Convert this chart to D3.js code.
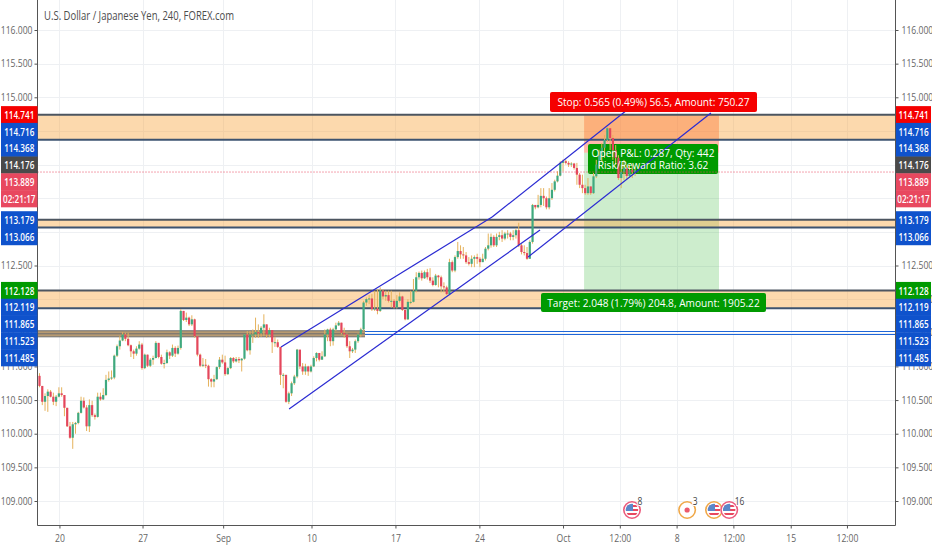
<!DOCTYPE html>
<html lang="en">
<head>
<meta charset="UTF-8">
<title>USD/JPY 240</title>
<script src="https://d3js.org/d3.v7.min.js"></script>
<style>
    html, body { margin: 0; padding: 0; background: #fff; }
    svg { display: block; }
    text { font-family: "Open Sans", Arial, sans-serif; }
    .axis path { display: none; }
    .axis line { stroke: #555; }
    .axis text { fill: #666; font-size: 10px; font-family: "Open Sans", Arial, sans-serif; }
</style>
</head>
<body>
<svg width="932" height="550"></svg>
<script>
// every candle opens at the close before it, so only the first open is kept
const firstOpen = 110.86;
const closes = [110.71,110.475,110.56,110.625,110.55,110.475,110.55,110.60,110.575,110.385,110.11,109.94,110.14,110.16,110.31,110.49,110.39,110.11,110.425,110.275,110.25,110.55,110.51,110.575,110.80,110.82,110.835,111.16,111.30,111.385,111.475,111.41,111.315,111.225,111.19,111.265,111.325,110.975,111.175,111.01,111.10,111.125,111.35,111.14,111.04,111.05,111.21,111.16,111.275,111.19,111.275,111.825,111.69,111.725,111.625,111.70,111.45,111.175,111.01,111.025,111.01,110.81,110.775,110.81,110.99,111.10,111.06,110.885,110.975,111.125,111.075,111.11,111.09,111.115,111.475,111.24,111.475,111.475,111.51,111.49,111.575,111.625,111.475,111.54,111.36,111.36,111.29,110.875,110.875,110.475,110.60,110.75,110.85,111.25,111.00,110.925,111.00,110.925,111.00,111.125,111.20,111.10,111.15,111.475,111.55,111.375,111.55,111.61,111.65,111.50,111.475,111.30,111.225,111.25,111.375,111.475,111.55,111.95,112.00,112.01,111.85,111.86,111.825,112.125,112.04,112.06,111.975,111.975,111.875,111.975,112.04,111.84,111.70,111.96,111.96,112.125,112.325,112.39,112.31,112.40,112.325,112.275,112.21,112.35,112.325,112.19,112.175,112.075,112.55,112.425,112.625,112.715,112.665,112.65,112.55,112.525,112.60,112.625,112.60,112.55,112.60,112.75,112.80,112.925,112.80,112.925,112.95,112.90,112.975,112.975,112.925,112.95,113.025,112.80,112.70,112.685,112.60,112.85,113.40,113.365,113.40,113.535,113.50,113.365,113.50,113.625,113.75,113.835,114.025,114.05,114.025,114.00,114.015,113.95,113.85,113.70,113.65,113.575,113.675,113.575,113.825,114.00,114.14,114.25,114.365,114.54,114.395,114.215,114.10,113.80,113.89,113.95,113.83,113.92,113.89,113.92];
const highs = [110.90,110.71,110.60,110.66,110.65,110.61,110.575,110.69,110.69,110.575,110.385,110.175,110.175,110.175,110.325,110.55,110.54,110.425,110.51,110.49,110.30,110.61,110.61,110.675,110.875,110.925,110.94,111.175,111.325,111.45,111.51,111.50,111.50,111.325,111.25,111.30,111.375,111.35,111.19,111.175,111.125,111.16,111.375,111.35,111.175,111.10,111.25,111.225,111.325,111.30,111.31,111.85,111.825,111.80,111.74,111.76,111.71,111.45,111.19,111.125,111.11,111.025,110.825,110.875,111.00,111.14,111.175,111.16,110.99,111.14,111.14,111.14,111.14,111.125,111.475,111.525,111.525,111.55,111.725,111.625,111.60,111.775,111.625,111.575,111.475,111.44,111.40,111.29,110.90,110.875,110.625,110.775,110.875,111.26,111.21,111.05,111.04,111.01,111.025,111.15,111.21,111.20,111.225,111.55,111.56,111.575,111.575,111.65,111.675,111.65,111.575,111.49,111.375,111.275,111.40,111.49,111.575,111.975,112.025,112.06,112.075,112.125,112.15,112.175,112.15,112.125,112.125,112.125,112.00,112.06,112.10,112.05,111.85,112.00,112.125,112.30,112.40,112.41,112.425,112.425,112.45,112.46,112.325,112.375,112.36,112.35,112.25,112.20,112.60,112.575,112.65,112.85,112.80,112.775,112.70,112.625,112.65,112.65,112.675,112.625,112.675,112.775,112.975,112.975,112.95,112.975,113.00,113.025,113.00,113.025,113.00,113.025,113.05,113.135,112.825,112.80,112.775,112.875,113.415,113.40,113.55,113.65,113.65,113.525,113.65,113.725,113.775,113.90,114.05,114.075,114.075,114.05,114.035,114.025,114.025,113.875,113.85,113.70,113.80,113.675,113.875,114.07,114.22,114.32,114.44,114.56,114.54,114.44,114.29,114.14,114.00,114.07,114.00,114.00,114.00,113.96];
const lows = [110.69,110.425,110.34,110.325,110.54,110.425,110.41,110.54,110.55,110.26,110.10,109.925,109.775,110.00,110.14,110.30,110.375,110.04,110.025,110.25,110.21,110.24,110.49,110.50,110.56,110.775,110.80,110.81,111.14,111.25,111.375,111.375,111.30,111.14,111.11,111.16,111.25,110.95,110.96,110.99,110.99,111.025,111.12,111.12,111.025,110.97,111.04,111.11,111.14,111.14,111.175,111.25,111.675,111.66,111.60,111.60,111.425,111.15,110.99,110.99,110.975,110.70,110.69,110.69,110.80,110.96,111.04,110.86,110.875,110.96,111.05,111.06,111.05,110.925,111.10,111.225,111.175,111.35,111.425,111.425,111.44,111.45,111.425,111.44,111.20,111.29,111.275,110.725,110.675,110.46,110.44,110.56,110.725,110.825,110.96,110.875,110.875,110.86,110.91,110.99,111.075,111.075,111.10,111.14,111.375,111.30,111.31,111.525,111.60,111.475,111.425,111.275,111.125,111.20,111.20,111.35,111.44,111.525,111.90,111.925,111.825,111.825,111.775,111.81,112.00,111.975,111.95,111.875,111.86,111.86,111.95,111.825,111.685,111.69,111.925,111.95,112.10,112.29,112.275,112.30,112.29,112.24,112.19,112.20,112.175,112.10,112.10,112.06,112.06,112.40,112.40,112.60,112.60,112.60,112.525,112.50,112.475,112.475,112.525,112.475,112.55,112.575,112.725,112.765,112.775,112.775,112.875,112.85,112.875,112.90,112.875,112.875,112.90,112.775,112.665,112.65,112.585,112.60,112.825,113.335,113.35,113.365,113.385,113.335,113.335,113.475,113.60,113.735,113.825,113.90,114.00,113.965,113.965,113.925,113.70,113.65,113.575,113.55,113.55,113.55,113.565,113.80,113.95,114.05,114.10,114.335,114.215,114.07,114.00,113.77,113.65,113.77,113.77,113.80,113.80,113.83];

const priceTicks = [109,109.5,110,110.5,111,111.5,112,112.5,113,113.5,114,114.5,115,115.5,116];
// time axis, positions counted in bars from the first candle
const timeTickBars = [7.2,37.2,66.3,98.2,128.5,158.8,189,209.5,230,250.5,271.2,291.5];
const timeTickLabels = ["20","27","Sep","10","17","24","Oct","12:00","8","12:00","15","12:00"];

// support / resistance zones: [top, bottom]
const zones = [[114.741,114.368],[113.179,113.066],[112.128,111.865]];
const lowZone = [111.53,111.44];
const lowZoneEndBar = 117.5;
const blueLevels = [111.523,111.485];

// trend channels: [bar, price, bar, price]
const channels = [
    [87.2,111.289,163.4,113.221],
    [90.1,110.368,180.7,113.028],
    [163.4,113.221,212.1,114.811],
    [176.4,112.627,242.4,114.767]
];

// position tool
const posBars = [196.6,245.3];
const entryPrice = 114.176, stopPrice = 114.741, targetPrice = 112.128, lastPrice = 113.889;

// price labels on both scales, top to bottom
const labelValues = [114.741,114.716,114.368,114.176,113.889,113.889,113.179,113.066,112.128,112.119,111.865,111.523,111.485];
const labelTexts = ["114.741","114.716","114.368","114.176","113.889","02:21:17","113.179","113.066","112.128","112.119","111.865","111.523","111.485"];
const labelColors = ["#f50000","#0f52cc","#0f52cc","#4a4a4a","#e8485f","#e8485f","#0f52cc","#0f52cc","#009a00","#0f52cc","#0f52cc","#0f52cc","#0f52cc"];

const eventBars = [213.9,233.8,243.5,249];
const eventKinds = ["flag","dot","flag","flag"];
const eventRings = ["#ec5a7c","#f0a848","#f0a848","#ec5a7c"];
const eventCounts = ["8","3","","16"];

const left = 37.5, right = 895.5, bottom = 525.5;
const barStep = 2.77, firstBarX = 39.5;

const svg = d3.select("svg");
const x = d3.scaleLinear().domain([0,300]).range([firstBarX, firstBarX + barStep * 300]);
const y = d3.scaleLinear().domain([109,116]).range([501,30]);

const upColor = "#3fa97f", downColor = "#e4475c", wickColor = "#e5b25c";

// the reference text is narrower than the installed fonts, so squeeze the glyphs
function squeeze(sel, factor) {
    sel.each(function() {
        const w = this.getComputedTextLength();
        if (w > 0) d3.select(this).attr("textLength", w * factor).attr("lengthAdjust", "spacingAndGlyphs");
    });
}

// scale labels are pushed down when they would overlap
const labelGap = 16.8;
let prevY = -100;
const labelYs = labelValues.map(v => {
    prevY = Math.max(y(v), prevY + labelGap);
    return prevY;
});

// grid
const grid = svg.append("g").attr("stroke", "#eef0f3");
grid.selectAll(".h").data(priceTicks).join("line")
    .attr("x1", left).attr("x2", right)
    .attr("y1", d => Math.round(y(d)) + 0.5).attr("y2", d => Math.round(y(d)) + 0.5);
grid.selectAll(".v").data(timeTickBars).join("line")
    .attr("y1", 0).attr("y2", bottom)
    .attr("x1", d => Math.round(x(d)) + 0.5).attr("x2", d => Math.round(x(d)) + 0.5);

// position regions
svg.append("rect").attr("x", x(posBars[0])).attr("width", x(posBars[1]) - x(posBars[0]))
    .attr("y", y(stopPrice)).attr("height", y(entryPrice) - y(stopPrice))
    .attr("fill", "#ff3c14").attr("fill-opacity", 0.36);
svg.append("rect").attr("x", x(posBars[0])).attr("width", x(posBars[1]) - x(posBars[0]))
    .attr("y", y(entryPrice)).attr("height", y(targetPrice) - y(entryPrice))
    .attr("fill", "#2fb52f").attr("fill-opacity", 0.24);

// zones
zones.forEach(z => {
    svg.append("rect").attr("x", left).attr("width", right - left)
        .attr("y", y(z[0])).attr("height", y(z[1]) - y(z[0]))
        .attr("fill", "#f9a43c").attr("fill-opacity", 0.42);
    z.forEach((p, i) => svg.append("line")
        .attr("x1", left).attr("x2", right).attr("y1", y(p)).attr("y2", y(p))
        .attr("stroke", i ? "#3d5370" : "#4c5560").attr("stroke-width", 2));
});
svg.append("rect").attr("x", left).attr("width", x(lowZoneEndBar) - left)
    .attr("y", y(lowZone[0])).attr("height", y(lowZone[1]) - y(lowZone[0]))
    .attr("fill", "#b79a72");
lowZone.concat(blueLevels[1]).forEach(p => svg.append("line")
    .attr("x1", left).attr("x2", x(lowZoneEndBar)).attr("y1", y(p)).attr("y2", y(p))
    .attr("stroke", "#6f6f6f").attr("stroke-width", 1));
blueLevels.forEach(p => svg.append("line")
    .attr("x1", x(lowZoneEndBar)).attr("x2", right)
    .attr("y1", Math.round(y(p)) + 0.5).attr("y2", Math.round(y(p)) + 0.5)
    .attr("stroke", "#1f66d8").attr("stroke-width", 1));

// open P&L box sits under the candles, its text goes on top later
const pnlBox = { cx: 653, cy: 159, w: 130, h: 30 };
svg.append("rect").attr("x", pnlBox.cx - pnlBox.w / 2).attr("y", pnlBox.cy - pnlBox.h / 2)
    .attr("width", pnlBox.w).attr("height", pnlBox.h).attr("rx", 2).attr("fill", "#009a00");

// candles
const candles = closes.map((c, i) => ({
    i: i, o: i ? closes[i - 1] : firstOpen, h: highs[i], l: lows[i], c: c
}));
svg.append("g").selectAll("line").data(candles).join("line")
    .attr("x1", d => x(d.i)).attr("x2", d => x(d.i))
    .attr("y1", d => y(d.h)).attr("y2", d => y(d.l))
    .attr("stroke", wickColor).attr("stroke-width", 1);
svg.append("g").selectAll("rect").data(candles).join("rect")
    .attr("x", d => x(d.i) - 1.1).attr("width", 2.2)
    .attr("y", d => y(Math.max(d.o, d.c)))
    .attr("height", d => Math.max(1, Math.abs(y(d.o) - y(d.c))))
    .attr("fill", d => d.c >= d.o ? upColor : downColor);

// last price line
svg.append("line").attr("x1", left).attr("x2", right)
    .attr("y1", y(lastPrice)).attr("y2", y(lastPrice))
    .attr("stroke", "#e8485f").attr("stroke-dasharray", "1,2");

// channels
svg.append("g").selectAll("line").data(channels).join("line")
    .attr("x1", d => x(d[0])).attr("y1", d => y(d[1]))
    .attr("x2", d => x(d[2])).attr("y2", d => y(d[3]))
    .attr("stroke", "#2a2ad2").attr("stroke-width", 1.2);

// axes
const axisLeft = d3.axisLeft(y).tickValues(priceTicks).tickFormat(d3.format(".3f")).tickSize(3).tickPadding(2);
const axisRight = d3.axisRight(y).tickValues(priceTicks).tickFormat(d3.format(".3f")).tickSize(3).tickPadding(3);
const axisBottom = d3.axisBottom(x).tickValues(timeTickBars)
    .tickFormat((d, i) => timeTickLabels[i]).tickSize(3).tickPadding(6);
const leftG = svg.append("g").attr("class", "axis").attr("transform", `translate(${left},0)`).call(axisLeft);
const rightG = svg.append("g").attr("class", "axis").attr("transform", `translate(${right},0)`).call(axisRight);
const bottomG = svg.append("g").attr("class", "axis").attr("transform", `translate(0,${bottom})`).call(axisBottom);
// tick texts that the scale labels cover completely are not drawn
[leftG, rightG].forEach(a => a.selectAll(".tick text")
    .filter(d => labelYs.some(ly => Math.abs(ly - y(d)) < 5)).remove());
[leftG, rightG, bottomG].forEach(a => squeeze(a.selectAll("text"), 0.86));
[[left,0,left,bottom],[right,0,right,bottom],[left,bottom,right,bottom]].forEach(d =>
    svg.append("line").attr("x1", d[0]).attr("y1", d[1]).attr("x2", d[2]).attr("y2", d[3]).attr("stroke", "#555"));

// scale labels
[[1, left - 1], [right + 0.5, 35]].forEach(side => {
    const g = svg.append("g");
    labelTexts.forEach((t, i) => {
        g.append("rect").attr("x", side[0]).attr("width", side[1])
            .attr("y", labelYs[i] - labelGap / 2 - 0.2).attr("height", labelGap + 0.4)
            .attr("fill", labelColors[i]);
        const lbl = g.append("text").attr("x", side[0] + side[1] / 2).attr("y", labelYs[i] + 4)
            .attr("text-anchor", "middle").attr("fill", "#fff")
            .attr("font-size", 11).attr("font-weight", 600).text(t);
        squeeze(lbl, 0.74);
    });
});

// position labels
function tagText(cx, cy, lines) {
    lines.forEach((t, i) => {
        const lbl = svg.append("text")
            .attr("x", cx).attr("y", cy + 4 + (i - (lines.length - 1) / 2) * 12.5)
            .attr("text-anchor", "middle").attr("fill", "#fff").attr("font-size", 11.5).text(t);
        squeeze(lbl, 0.88);
    });
}
function tag(cx, cy, w, h, color, lines) {
    svg.append("rect").attr("x", cx - w / 2).attr("y", cy - h / 2)
        .attr("width", w).attr("height", h).attr("rx", 2).attr("fill", color);
    tagText(cx, cy, lines);
}
tag(653.5, 102, 207, 20, "#f50000", ["Stop: 0.565 (0.49%) 56.5, Amount: 750.27"]);
tag(653.5, 302.5, 225, 19, "#009a00", ["Target: 2.048 (1.79%) 204.8, Amount: 1905.22"]);
tagText(pnlBox.cx, pnlBox.cy, ["Open P&L: 0.287, Qty: 442", "Risk/Reward Ratio: 3.62"]);

// title
squeeze(svg.append("text").attr("x", 44).attr("y", 20).attr("fill", "#4d4d4d").attr("font-size", 12.5)
    .text("U.S. Dollar / Japanese Yen, 240, FOREX.com"), 0.76);

// economic events
const eventY = 510, eventR = 8.2;
const defs = svg.append("defs");
eventBars.forEach((b, i) => {
    const cx = x(b);
    const g = svg.append("g");
    g.append("circle").attr("cx", cx).attr("cy", eventY).attr("r", eventR)
        .attr("fill", "#fff").attr("stroke", eventRings[i]).attr("stroke-width", 1.6);
    if (eventKinds[i] === "dot") {
        g.append("circle").attr("cx", cx).attr("cy", eventY).attr("r", 2.6).attr("fill", "#ec5a6c");
    } else {
        defs.append("clipPath").attr("id", "ev" + i).append("circle")
            .attr("cx", cx).attr("cy", eventY).attr("r", eventR - 2);
        const f = g.append("g").attr("clip-path", `url(#ev${i})`);
        [0, 1, 2].forEach(k => f.append("rect").attr("x", cx - 7).attr("width", 14)
            .attr("y", eventY - 5 + k * 4).attr("height", 2).attr("fill", "#e8485f"));
        f.append("rect").attr("x", cx - 7).attr("y", eventY - 7).attr("width", 8).attr("height", 8).attr("fill", "#5b87c9");
    }
    if (eventCounts[i]) {
        squeeze(g.append("text").attr("x", cx + 5.5).attr("y", eventY - 5).attr("font-size", 10).attr("fill", "#444")
            .attr("stroke", "#fff").attr("stroke-width", 2).attr("paint-order", "stroke").text(eventCounts[i]), 0.85);
    }
});
</script>
</body>
</html>
